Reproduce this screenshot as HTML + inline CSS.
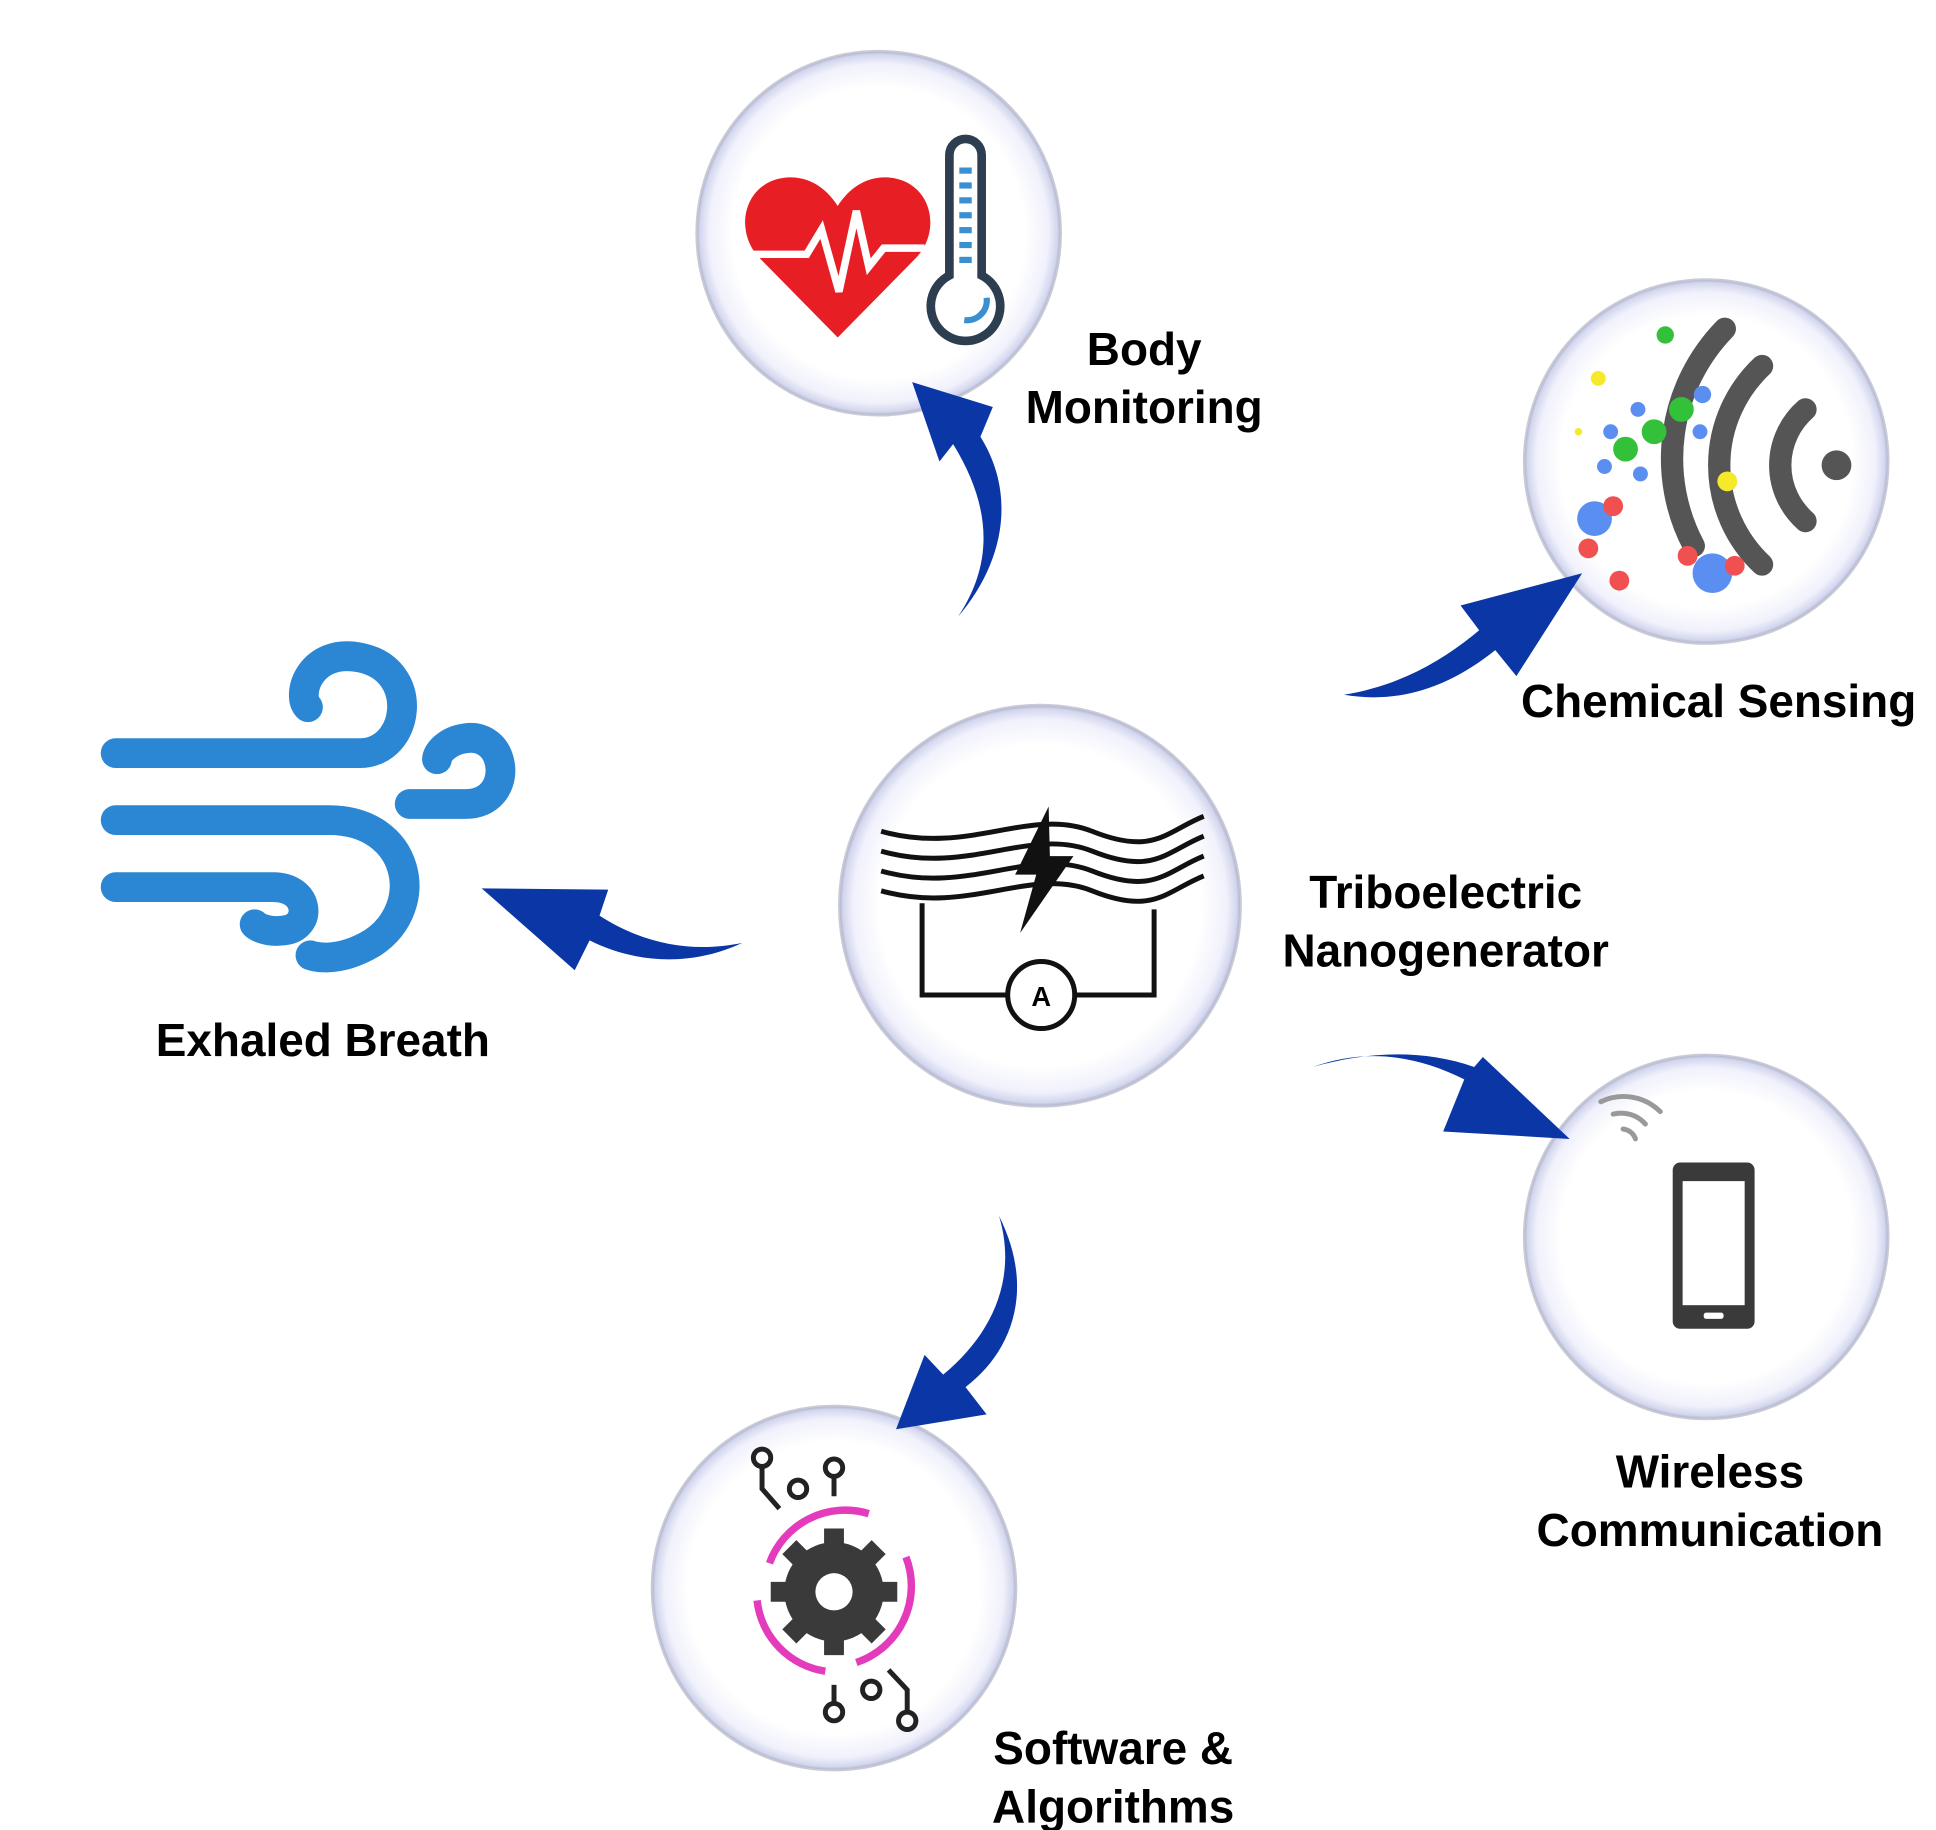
<!DOCTYPE html>
<html><head><meta charset="utf-8"><style>
html,body{margin:0;padding:0;background:#fff;}
svg{display:block;}
text{font-family:"Liberation Sans",Arial,sans-serif;font-weight:bold;fill:#000;}
</style></head><body>
<svg width="1936" height="1830" viewBox="0 0 1560 1475">
<defs>
<radialGradient id="bub" cx="50%" cy="50%" r="50%">
<stop offset="0" stop-color="#ffffff"/>
<stop offset="0.8" stop-color="#ffffff"/>
<stop offset="0.93" stop-color="#f0f1fb"/>
<stop offset="0.98" stop-color="#d3d6ee"/>
<stop offset="1" stop-color="#a9adc2"/>
</radialGradient>
</defs>

<circle cx="708" cy="188" r="147" fill="url(#bub)" stroke="#c8cad6" stroke-width="1.5"/>
<circle cx="1375" cy="372" r="147" fill="url(#bub)" stroke="#c8cad6" stroke-width="1.5"/>
<circle cx="838" cy="730" r="162" fill="url(#bub)" stroke="#c8cad6" stroke-width="1.5"/>
<circle cx="1375" cy="997" r="147" fill="url(#bub)" stroke="#c8cad6" stroke-width="1.5"/>
<circle cx="672" cy="1280" r="147" fill="url(#bub)" stroke="#c8cad6" stroke-width="1.5"/>

<g fill="#0a36a6">
<path d="M772,497 C808,455 820,400 790,352 L800,328 L735,308 L757,372 L768,358 C800,410 800,455 772,497 Z"/>
<path d="M1083,560 C1130,568 1170,552 1205,524 L1222,545 L1275,462 L1177,488 L1192,508 C1160,535 1125,553 1083,560 Z"/>
<path d="M598,760 C560,778 515,778 475,758 L463,782 L388,716 L490,717 L483,738 C520,762 560,768 598,760 Z"/>
<path d="M1058,860 C1100,845 1140,850 1180,870 L1163,912 L1265,918 L1195,852 L1188,860 C1145,845 1100,848 1058,860 Z"/>
<path d="M805,980 C835,1040 815,1090 778,1118 L795,1140 L722,1152 L745,1092 L760,1108 C800,1075 820,1030 805,980 Z"/>
</g>

<g>
<path d="M675,272 L612,208 C590,185 600,145 635,143 C655,142 668,155 675,166 C682,155 695,142 715,143 C750,145 760,185 738,208 Z" fill="#e81e25"/>
<polyline points="605,205 650,205 662,185 676,235 690,170 700,215 712,200 745,200" fill="none" stroke="#fff" stroke-width="6"/>
</g>
<g fill="none" stroke="#2d3e50" stroke-width="7">
<path d="M765,125 a13,13 0 0 1 26,0 V222 a28,28 0 1 1 -26,0 Z" fill="#fff"/>
</g>
<g fill="#3a8fd1"><rect x="773" y="135" width="10" height="5"/><rect x="773" y="147" width="10" height="5"/><rect x="773" y="159" width="10" height="5"/><rect x="773" y="171" width="10" height="5"/><rect x="773" y="183" width="10" height="5"/><rect x="773" y="195" width="10" height="5"/><rect x="773" y="207" width="10" height="5"/></g>
<path d="M795,240 a16,16 0 0 1 -18,18" fill="none" stroke="#3a8fd1" stroke-width="5"/>

<g>
<circle cx="1480" cy="375" r="12" fill="#555"/>
<path d="M1455,330 A60,60 0 0 0 1455,420" fill="none" stroke="#555" stroke-width="18" stroke-linecap="round"/>
<path d="M1420,295 A110,110 0 0 0 1420,455" fill="none" stroke="#555" stroke-width="18" stroke-linecap="round"/>
<path d="M1390,265 A150,150 0 0 0 1365,440" fill="none" stroke="#555" stroke-width="18" stroke-linecap="round"/>
<circle cx="1285" cy="418" r="14" fill="#5a8ef0"/><circle cx="1380" cy="462" r="16" fill="#5a8ef0"/><circle cx="1300" cy="408" r="8" fill="#f05050"/>
<circle cx="1280" cy="442" r="8" fill="#f05050"/><circle cx="1305" cy="468" r="8" fill="#f05050"/><circle cx="1360" cy="448" r="8" fill="#f05050"/><circle cx="1398" cy="456" r="8" fill="#f05050"/>
<circle cx="1310" cy="362" r="10" fill="#33c13a"/><circle cx="1333" cy="348" r="10" fill="#33c13a"/><circle cx="1355" cy="330" r="10" fill="#33c13a"/><circle cx="1342" cy="270" r="7" fill="#33c13a"/>
<circle cx="1298" cy="348" r="6" fill="#5a8ef0"/><circle cx="1320" cy="330" r="6" fill="#5a8ef0"/><circle cx="1370" cy="348" r="6" fill="#5a8ef0"/><circle cx="1372" cy="318" r="7" fill="#5a8ef0"/><circle cx="1322" cy="382" r="6" fill="#5a8ef0"/><circle cx="1293" cy="376" r="6" fill="#5a8ef0"/>
<circle cx="1288" cy="305" r="6" fill="#f5e92a"/><circle cx="1392" cy="388" r="8" fill="#f5e92a"/><circle cx="1272" cy="348" r="3" fill="#f5e92a"/>
</g>

<g fill="none" stroke="#111" stroke-width="4">
<path d="M710,670 C780,690 830,650 880,670 S940,670 970,658"/>
<path d="M710,686 C780,706 830,666 880,686 S940,686 970,674"/>
<path d="M710,702 C780,722 830,682 880,702 S940,702 970,690"/>
<path d="M710,718 C780,738 830,698 880,718 S940,718 970,706"/>
<polyline points="743,728 743,802 812,802"/><polyline points="930,733 930,802 866,802"/>
<circle cx="839" cy="802" r="27" fill="#fff"/>
</g>
<path d="M845,650 L818,705 L835,705 L822,752 L865,690 L846,690 Z" fill="#111"/>
<text x="839" y="811" font-size="22" text-anchor="middle">A</text>

<g fill="none" stroke="#2b86d4" stroke-width="24" stroke-linecap="round">
<path d="M93,607 H290 C330,607 340,540 290,530 C250,522 238,560 248,570"/>
<path d="M93,661 H265 C330,661 345,730 300,760 C270,778 250,770 250,770"/>
<path d="M93,715 H220 C250,715 252,748 228,750 C212,752 205,745 205,745"/>
<path d="M330,648 H375 C415,648 410,590 375,595 C360,597 352,607 352,612"/>
</g>

<g>
<rect x="1348" y="937" width="66" height="134" rx="6" fill="#3a3a3a"/>
<rect x="1356" y="952" width="50" height="100" fill="#fff"/>
<rect x="1373" y="1058" width="16" height="5" rx="2" fill="#fff"/>
<g fill="none" stroke="#999" stroke-width="4" stroke-linecap="round">
<path d="M1318,918 A12,12 0 0 0 1308,910"/><path d="M1326,906 A26,26 0 0 0 1300,898"/><path d="M1338,896 A42,42 0 0 0 1290,888"/>
</g>
</g>

<g>
<circle cx="672" cy="1283" r="40" fill="#3a3a3a"/>
<g stroke="#3a3a3a" stroke-width="16">
<line x1="672" y1="1232" x2="672" y2="1334"/><line x1="621" y1="1283" x2="723" y2="1283"/>
<line x1="636" y1="1247" x2="708" y2="1319"/><line x1="708" y1="1247" x2="636" y2="1319"/>
</g>
<circle cx="672" cy="1283" r="15" fill="#fff"/>
<g fill="none" stroke="#e33bbb" stroke-width="6">
<path d="M620,1260 A65,65 0 0 1 700,1220"/><path d="M730,1255 A65,65 0 0 1 690,1340"/><path d="M665,1347 A65,65 0 0 1 610,1290"/>
</g>
<g fill="none" stroke="#222" stroke-width="4">
<circle cx="614" cy="1175" r="7"/><circle cx="643" cy="1200" r="7"/><circle cx="672" cy="1183" r="7"/>
<circle cx="672" cy="1380" r="7"/><circle cx="702" cy="1362" r="7"/><circle cx="731" cy="1387" r="7"/>
<polyline points="614,1182 614,1200 628,1216"/><line x1="672" y1="1190" x2="672" y2="1206"/>
<line x1="672" y1="1373" x2="672" y2="1358"/><polyline points="731,1380 731,1362 716,1346"/>
</g>
</g>

<g font-size="37">
<text x="922" y="294" text-anchor="middle">Body</text>
<text x="922" y="341" text-anchor="middle">Monitoring</text>
<text x="1385" y="578" text-anchor="middle">Chemical Sensing</text>
<text x="1165" y="732" text-anchor="middle">Triboelectric</text>
<text x="1165" y="779" text-anchor="middle">Nanogenerator</text>
<text x="260" y="851" text-anchor="middle">Exhaled Breath</text>
<text x="1378" y="1199" text-anchor="middle">Wireless</text>
<text x="1378" y="1246" text-anchor="middle">Communication</text>
<text x="897" y="1422" text-anchor="middle">Software &amp;</text>
<text x="897" y="1469" text-anchor="middle">Algorithms</text>
</g>
</svg>
</body></html>
